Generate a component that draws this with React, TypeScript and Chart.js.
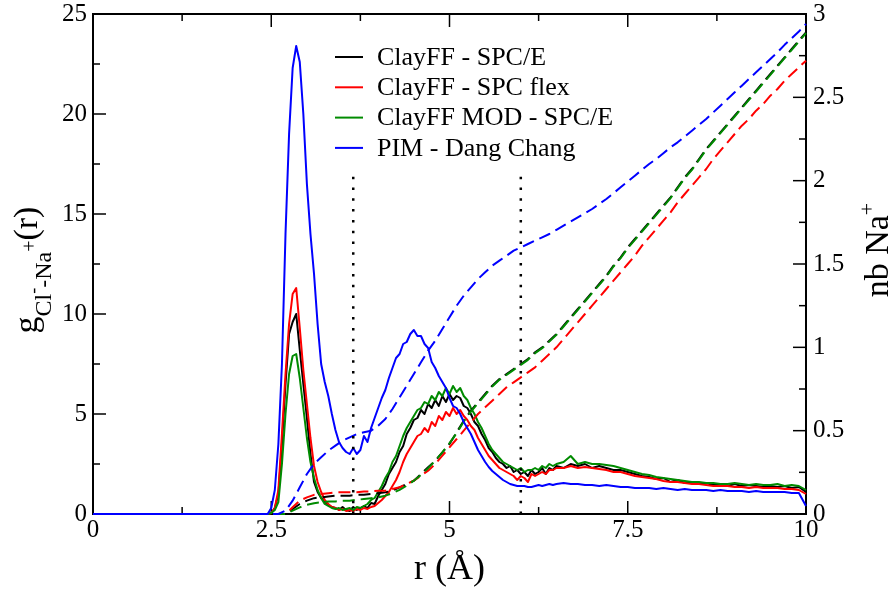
import { useEffect, useRef } from "react";
import { Chart, registerables } from "chart.js";

Chart.register(...registerables);

const FONT = "'Liberation Serif', 'Times New Roman', serif";

// r values (Å) for the g(r) curves
const R_G = [0,
  2.40, 2.45, 2.50, 2.55, 2.60, 2.65, 2.70, 2.75, 2.80, 2.85,
  2.90, 2.95, 3.00, 3.05, 3.10, 3.15, 3.20, 3.25, 3.30, 3.35,
  3.40, 3.45, 3.50, 3.55, 3.60, 3.65, 3.70, 3.75, 3.80, 3.85,
  3.90, 3.95, 4.00, 4.05, 4.10, 4.15, 4.20, 4.25, 4.30, 4.35,
  4.40, 4.45, 4.50, 4.55, 4.60, 4.65, 4.70, 4.75, 4.80, 4.85,
  4.90, 4.95, 5.00, 5.05, 5.10, 5.15, 5.20, 5.25, 5.30, 5.35,
  5.40, 5.45, 5.50, 5.55, 5.60, 5.65, 5.70, 5.75, 5.80, 5.85,
  5.90, 5.95, 6.00, 6.05, 6.10, 6.15, 6.20, 6.25, 6.30, 6.35,
  6.40, 6.45, 6.50,
  6.6, 6.7, 6.8, 6.9, 7.0, 7.1, 7.2, 7.3, 7.4, 7.5,
  7.6, 7.7, 7.8, 7.9, 8.0, 8.1, 8.2, 8.3, 8.4, 8.5,
  8.6, 8.7, 8.8, 8.9, 9.0, 9.1, 9.2, 9.3, 9.4, 9.5,
  9.6, 9.7, 9.8, 9.9, 10.0];

const G_CLAYFF_SPCE = [0,
  0, 0, 0.05, 0.3, 1.0, 3.5, 6.5, 9.0, 9.6, 10.0,
  8.2, 6.5, 4.8, 3.0, 1.6, 1.1, 0.8, 0.6, 0.45, 0.35,
  0.3, 0.2, 0.35, 0.2, 0.15, 0.35, 0.2, 0.3, 0.4, 0.3,
  0.55, 0.5, 0.9, 1.2, 1.5, 2.0, 2.3, 2.6, 3.1, 3.4,
  4.0, 4.3, 4.7, 4.8, 5.2, 5.0, 5.5, 5.3, 5.7, 5.4,
  5.9, 5.6, 6.0, 5.7, 5.9, 5.8, 5.4, 5.3, 5.0, 4.6,
  4.4, 4.0, 3.7, 3.3, 3.1, 2.8, 2.6, 2.5, 2.3, 2.4,
  2.1, 2.2, 2.0, 2.1, 1.9, 2.2, 2.0, 2.1, 2.3, 2.0,
  2.3, 2.2, 2.4,
  2.3, 2.5, 2.4, 2.5, 2.3, 2.4, 2.3, 2.2, 2.2, 2.1,
  2.0, 1.9, 1.85, 1.75, 1.8, 1.6, 1.7, 1.55, 1.6, 1.5,
  1.55, 1.45, 1.5, 1.4, 1.5, 1.4, 1.45, 1.4, 1.35, 1.4,
  1.35, 1.4, 1.3, 1.35, 1.1];

const G_CLAYFF_FLEX = [0,
  0, 0, 0.05, 0.3, 1.2, 4.0, 7.0, 9.5, 11.0, 11.3,
  9.3, 7.2, 5.5, 3.8, 2.4, 1.6, 1.1, 0.7, 0.5, 0.35,
  0.3, 0.2, 0.25, 0.15, 0.2, 0.15, 0.25, 0.2, 0.3, 0.25,
  0.35, 0.4, 0.55, 0.7, 0.9, 1.1, 1.4, 1.7, 2.1, 2.6,
  3.0, 3.3, 3.6, 3.9, 4.0, 4.3, 4.1, 4.6, 4.4, 4.9,
  4.7, 5.1, 4.9, 5.3, 5.0, 5.2, 4.9, 4.7, 4.4, 4.2,
  3.8, 3.5, 3.2, 2.9, 2.7, 2.5, 2.3, 2.2, 2.1, 2.0,
  1.9, 1.7, 1.9, 1.8, 1.6, 2.0, 1.9, 2.0, 2.1, 2.0,
  2.2, 2.2, 2.3,
  2.3, 2.4, 2.3, 2.35, 2.3, 2.25, 2.2, 2.1, 2.1, 2.0,
  1.9, 1.85, 1.8, 1.75, 1.65, 1.6, 1.6, 1.55, 1.5, 1.5,
  1.45, 1.4, 1.4, 1.4, 1.35, 1.35, 1.3, 1.35, 1.3, 1.3,
  1.3, 1.25, 1.25, 1.2, 1.0];

const G_CLAYFF_MOD = [0,
  0, 0, 0.05, 0.2, 0.6, 2.5, 5.0, 7.0, 7.9, 8.0,
  6.8, 5.3, 3.8, 2.6, 1.8, 1.2, 0.8, 0.5, 0.4, 0.3,
  0.25, 0.3, 0.2, 0.25, 0.3, 0.2, 0.35, 0.3, 0.4, 0.5,
  0.7, 0.8, 1.1, 1.4, 1.8, 2.1, 2.6, 2.9, 3.4, 3.9,
  4.3, 4.6, 4.9, 5.2, 5.3, 5.6, 5.5, 5.9, 5.7, 6.1,
  5.9, 6.3, 6.0, 6.4, 6.1, 6.3, 5.9, 5.7, 5.3, 5.0,
  4.6, 4.3, 3.9, 3.5, 3.2, 3.0, 2.8, 2.6, 2.5, 2.4,
  2.3, 2.2, 2.3, 2.1, 2.2, 2.2, 2.3, 2.2, 2.4, 2.3,
  2.5, 2.4, 2.5,
  2.6, 2.9, 2.5, 2.6, 2.5, 2.5, 2.45, 2.4, 2.3, 2.2,
  2.1, 2.0, 1.95, 1.85, 1.8, 1.75, 1.7, 1.65, 1.6, 1.6,
  1.55, 1.55, 1.5, 1.5, 1.55, 1.5, 1.45, 1.5, 1.45, 1.45,
  1.5, 1.4, 1.45, 1.4, 1.2];

const G_PIM = [0,
  0, 0, 0.3, 1.2, 3.5, 7.5, 14.0, 19.0, 22.3, 23.4,
  22.6, 20.0, 16.5, 14.0, 12.0, 9.5, 7.5, 6.6, 5.9, 5.0,
  4.2, 3.6, 3.3, 3.1, 3.0, 3.3, 3.0, 3.2, 3.9, 3.6,
  4.3, 4.8, 5.3, 5.8, 6.2, 6.8, 7.3, 7.8, 8.0, 8.5,
  8.6, 9.0, 9.2, 8.9, 8.9, 8.5, 8.3, 7.6, 7.3, 6.9,
  6.6, 6.3, 5.8, 5.4, 5.3, 5.0, 4.6, 4.3, 4.0, 3.6,
  3.2, 2.9, 2.6, 2.35, 2.15, 2.0, 1.85, 1.7, 1.6, 1.5,
  1.45, 1.4, 1.4, 1.4, 1.35, 1.35, 1.4, 1.45, 1.4, 1.45,
  1.5, 1.45, 1.5,
  1.55, 1.5, 1.5, 1.45, 1.45, 1.4, 1.45, 1.4, 1.35, 1.35,
  1.3, 1.3, 1.3, 1.25, 1.3, 1.25, 1.2, 1.25, 1.2, 1.2,
  1.2, 1.15, 1.2, 1.15, 1.15, 1.15, 1.1, 1.15, 1.1, 1.1,
  1.1, 1.1, 1.05, 1.05, 0.4];

// r values (Å) for the running coordination numbers
const R_N = [0,
  2.6, 2.7, 2.8, 2.9,
  3.0, 3.1, 3.2, 3.3, 3.4, 3.5, 3.6, 3.7, 3.8, 3.9,
  4.0, 4.1, 4.2, 4.3, 4.4, 4.5, 4.6, 4.7, 4.8, 4.9,
  5.0, 5.1, 5.2, 5.3, 5.4, 5.5, 5.6, 5.7, 5.8, 5.9,
  6.0, 6.1, 6.2, 6.3, 6.4, 6.5, 6.6, 6.7, 6.8, 6.9,
  7.0, 7.1, 7.2, 7.3, 7.4, 7.5, 7.6, 7.7, 7.8, 7.9,
  8.0, 8.1, 8.2, 8.3, 8.4, 8.5, 8.6, 8.7, 8.8, 8.9,
  9.0, 9.1, 9.2, 9.3, 9.4, 9.5, 9.6, 9.7, 9.8, 9.9,
  10.0];

const N_CLAYFF_SPCE = [0,
  0, 0, 0.03, 0.06,
  0.08, 0.095, 0.1, 0.105, 0.11, 0.11, 0.11, 0.115, 0.115, 0.12,
  0.125, 0.13, 0.14, 0.16, 0.18, 0.2, 0.24, 0.28, 0.32, 0.37,
  0.42, 0.49, 0.56, 0.62, 0.67, 0.72, 0.77, 0.81, 0.84, 0.87,
  0.9, 0.93, 0.97, 1.0, 1.04, 1.08, 1.13, 1.18, 1.23, 1.28,
  1.33, 1.38, 1.43, 1.49, 1.54, 1.6, 1.65, 1.7, 1.75, 1.8,
  1.85, 1.9, 1.96, 2.02, 2.07, 2.13, 2.19, 2.24, 2.29, 2.34,
  2.39, 2.44, 2.49, 2.54, 2.59, 2.64, 2.69, 2.74, 2.79, 2.84,
  2.89];

const N_CLAYFF_FLEX = [0,
  0, 0, 0.04, 0.08,
  0.1, 0.115, 0.12, 0.125, 0.13, 0.13, 0.13, 0.13, 0.135, 0.135,
  0.14, 0.14, 0.15, 0.16, 0.18, 0.2, 0.23, 0.26, 0.3, 0.35,
  0.4, 0.45, 0.5, 0.55, 0.6, 0.64, 0.68, 0.72, 0.76, 0.79,
  0.82, 0.85, 0.88, 0.92, 0.96, 1.0, 1.05, 1.1, 1.15, 1.2,
  1.25, 1.3, 1.35, 1.4, 1.45, 1.5, 1.55, 1.61, 1.66, 1.71,
  1.76, 1.81, 1.87, 1.92, 1.97, 2.02, 2.07, 2.13, 2.18, 2.23,
  2.28, 2.33, 2.37, 2.42, 2.46, 2.51, 2.55, 2.6, 2.64, 2.68,
  2.72];

const N_CLAYFF_MOD = [0,
  0, 0, 0.02, 0.04,
  0.055, 0.065, 0.07, 0.075, 0.075, 0.08, 0.08, 0.085, 0.09, 0.095,
  0.1, 0.11, 0.125, 0.145, 0.17, 0.2, 0.235, 0.275, 0.32, 0.37,
  0.425, 0.485, 0.555, 0.615, 0.665, 0.715, 0.765, 0.805, 0.835, 0.865,
  0.895, 0.925, 0.965, 0.995, 1.035, 1.075, 1.125, 1.175, 1.225, 1.275,
  1.325, 1.375, 1.425, 1.485, 1.535, 1.595, 1.645, 1.695, 1.745, 1.795,
  1.845, 1.895, 1.955, 2.015, 2.065, 2.125, 2.185, 2.235, 2.285, 2.335,
  2.385, 2.435, 2.485, 2.535, 2.585, 2.635, 2.685, 2.735, 2.785, 2.835,
  2.885];

const N_PIM = [0,
  0, 0.02, 0.08, 0.16,
  0.24, 0.3, 0.34, 0.38, 0.41, 0.44, 0.46, 0.48, 0.49, 0.5,
  0.53, 0.57, 0.63, 0.7, 0.77, 0.84, 0.91, 0.98, 1.04, 1.11,
  1.18, 1.25, 1.31, 1.36, 1.41, 1.45, 1.49, 1.52, 1.55, 1.58,
  1.6, 1.62, 1.64, 1.66, 1.68, 1.705, 1.73, 1.755, 1.78, 1.805,
  1.83, 1.86, 1.89, 1.925, 1.96, 1.995, 2.03, 2.065, 2.1, 2.13,
  2.165, 2.2, 2.23, 2.265, 2.3, 2.335, 2.37, 2.41, 2.45, 2.49,
  2.53, 2.57, 2.61, 2.65, 2.69, 2.73, 2.77, 2.815, 2.855, 2.895,
  2.94];

// vertical dotted markers (r positions, height in g units)
const MARK_R = [3.65, 6.0];
const MARK_TOP = 17.2;

const SERIES_LABELS = ["ClayFF - SPC/E", "ClayFF - SPC flex", "ClayFF MOD - SPC/E", "PIM - Dang Chang"];
const SERIES_COLORS = ["#000000", "#ff0000", "#008b00", "#0000ff"];

const X_TITLE = "r (Å)";
const LEFT_TITLE = [
  { t: "g", s: 34, dy: 0 },
  { t: "Cl", s: 24, dy: 14 },
  { t: "-", s: 18, dy: 2 },
  { t: "-Na", s: 24, dy: 14 },
  { t: "+", s: 20, dy: -1 },
  { t: "(r)", s: 34, dy: 0 },
];
const RIGHT_TITLE = [
  { t: "nb Na", s: 34, dy: 0 },
  { t: "+", s: 22, dy: -14 },
];

function pts(xs: number[], ys: number[]) {
  return xs.map((x, i) => ({ x, y: ys[i] }));
}

function drawRich(ctx: CanvasRenderingContext2D, parts: { t: string; s: number; dy: number }[], bx: number, cy: number) {
  let total = 0;
  const widths = parts.map((p) => {
    ctx.font = `${p.s}px ${FONT}`;
    const w = ctx.measureText(p.t).width;
    total += w;
    return w;
  });
  ctx.save();
  ctx.translate(bx, cy);
  ctx.rotate(-Math.PI / 2);
  ctx.textAlign = "left";
  ctx.textBaseline = "alphabetic";
  let x = -total / 2;
  parts.forEach((p, i) => {
    ctx.font = `${p.s}px ${FONT}`;
    ctx.fillText(p.t, x, p.dy);
    x += widths[i];
  });
  ctx.restore();
}

const framePlugin = {
  id: "frame",
  beforeDatasetsDraw(chart: any) {
    const { ctx, chartArea: a, scales } = chart;
    ctx.save();
    ctx.strokeStyle = "#000";
    ctx.lineWidth = 2;
    ctx.strokeRect(a.left, a.top, a.right - a.left, a.bottom - a.top);
    ctx.lineWidth = 1.5;
    const majors = (s: any) => s.ticks.map((t: any) => t.value);
    const minors = (s: any) => {
      const v = majors(s);
      const out: number[] = [];
      for (let i = 0; i < v.length - 1; i++) out.push((v[i] + v[i + 1]) / 2);
      return out;
    };
    const line = (x1: number, y1: number, x2: number, y2: number) => {
      ctx.beginPath();
      ctx.moveTo(x1, y1);
      ctx.lineTo(x2, y2);
      ctx.stroke();
    };
    const MAJ = 13, MIN = 7;
    const sx = scales.x, sy = scales.y, sy2 = scales.y2;
    majors(sx).forEach((v: number) => { const p = sx.getPixelForValue(v); line(p, a.bottom, p, a.bottom - MAJ); line(p, a.top, p, a.top + MAJ); });
    minors(sx).forEach((v: number) => { const p = sx.getPixelForValue(v); line(p, a.bottom, p, a.bottom - MIN); line(p, a.top, p, a.top + MIN); });
    majors(sy).forEach((v: number) => { const p = sy.getPixelForValue(v); line(a.left, p, a.left + MAJ, p); });
    minors(sy).forEach((v: number) => { const p = sy.getPixelForValue(v); line(a.left, p, a.left + MIN, p); });
    majors(sy2).forEach((v: number) => { const p = sy2.getPixelForValue(v); line(a.right, p, a.right - MAJ, p); });
    minors(sy2).forEach((v: number) => { const p = sy2.getPixelForValue(v); line(a.right, p, a.right - MIN, p); });
    ctx.restore();
  },
  afterDraw(chart: any) {
    const { ctx, chartArea: a } = chart;
    ctx.save();
    ctx.fillStyle = "#000";
    // legend
    const items = chart.data.datasets.filter((d: any) => d.showInLegend);
    items.forEach((d: any, i: number) => {
      const y = 57 + i * 30.3;
      ctx.strokeStyle = d.borderColor;
      ctx.lineWidth = 2;
      ctx.beginPath();
      ctx.moveTo(335, y);
      ctx.lineTo(363, y);
      ctx.stroke();
      ctx.font = `26px ${FONT}`;
      ctx.textAlign = "left";
      ctx.textBaseline = "middle";
      ctx.fillText(d.label, 377, y + 1);
    });
    // x title
    ctx.font = `36px ${FONT}`;
    ctx.textAlign = "center";
    ctx.textBaseline = "alphabetic";
    ctx.fillText(X_TITLE, (a.left + a.right) / 2, 579);
    drawRich(ctx, LEFT_TITLE, 37, (a.top + a.bottom) / 2 + 6);
    drawRich(ctx, RIGHT_TITLE, 888, 250);
    ctx.restore();
  },
};

export default function App() {
  const ref = useRef<HTMLCanvasElement>(null);
  useEffect(() => {
    document.body.style.margin = "0";
    const solid = (i: number, ys: number[], order: number) => ({
      label: SERIES_LABELS[i],
      data: pts(R_G, ys),
      borderColor: SERIES_COLORS[i],
      borderWidth: 2,
      yAxisID: "y",
      order,
      showInLegend: true,
    });
    const dashed = (i: number, ys: number[], order: number) => ({
      label: SERIES_LABELS[i] + " nb",
      data: pts(R_N, ys),
      borderColor: SERIES_COLORS[i],
      borderWidth: 2,
      borderDash: [12, 6],
      yAxisID: "y2",
      order,
    });
    const marker = (r: number) => ({
      label: "mark",
      data: [{ x: r, y: 0 }, { x: r, y: MARK_TOP }],
      borderColor: "#000",
      borderWidth: 2.5,
      borderDash: [2.5, 8.3],
      yAxisID: "y",
      order: 0,
    });
    const datasets: any[] = [
      solid(0, G_CLAYFF_SPCE, 9),
      solid(1, G_CLAYFF_FLEX, 8),
      solid(2, G_CLAYFF_MOD, 7),
      dashed(0, N_CLAYFF_SPCE, 6),
      dashed(1, N_CLAYFF_FLEX, 5),
      dashed(2, N_CLAYFF_MOD, 4),
      solid(3, G_PIM, 3),
      dashed(3, N_PIM, 2),
      ...MARK_R.map(marker),
    ];
    datasets.forEach((d) => {
      d.pointRadius = 0;
      d.tension = 0;
      d.fill = false;
      d.borderJoinStyle = "round";
      d.clip = 4;
    });
    const tickFont = { family: FONT, size: 25 };
    const plain = (v: any) => String(Number(v));
    const resetPad = (s: any) => {
      s.paddingTop = 0; s.paddingBottom = 0; s.paddingLeft = 0; s.paddingRight = 0;
    };
    const chart = new Chart(ref.current!, {
      type: "line",
      data: { datasets },
      options: {
        responsive: false,
        devicePixelRatio: 1,
        animation: false,
        events: [],
        layout: { padding: { top: 14, left: 0, right: 0, bottom: 0 } },
        plugins: { legend: { display: false }, tooltip: { enabled: false } },
        scales: {
          x: {
            type: "linear", position: "bottom", min: 0, max: 10,
            ticks: { stepSize: 2.5, color: "#000", font: tickFont, padding: 1, maxRotation: 0, autoSkip: false, callback: plain },
            grid: { display: false, drawTicks: false }, border: { display: false },
            afterFit: (s: any) => { s.height = 78; resetPad(s); },
          },
          y: {
            type: "linear", position: "left", min: 0, max: 25,
            ticks: { stepSize: 5, color: "#000", font: tickFont, padding: 6, callback: plain },
            grid: { display: false, drawTicks: false }, border: { display: false },
            afterFit: (s: any) => { s.width = 93; resetPad(s); },
          },
          y2: {
            type: "linear", position: "right", min: 0, max: 3,
            ticks: { stepSize: 0.5, color: "#000", font: tickFont, padding: 7, callback: plain },
            grid: { display: false, drawTicks: false }, border: { display: false },
            afterFit: (s: any) => { s.width = 85; resetPad(s); },
          },
        },
      } as any,
      plugins: [framePlugin],
    });
    return () => chart.destroy();
  }, []);
  return <canvas ref={ref} width={891} height={592} style={{ display: "block", width: 891, height: 592 }} />;
}
